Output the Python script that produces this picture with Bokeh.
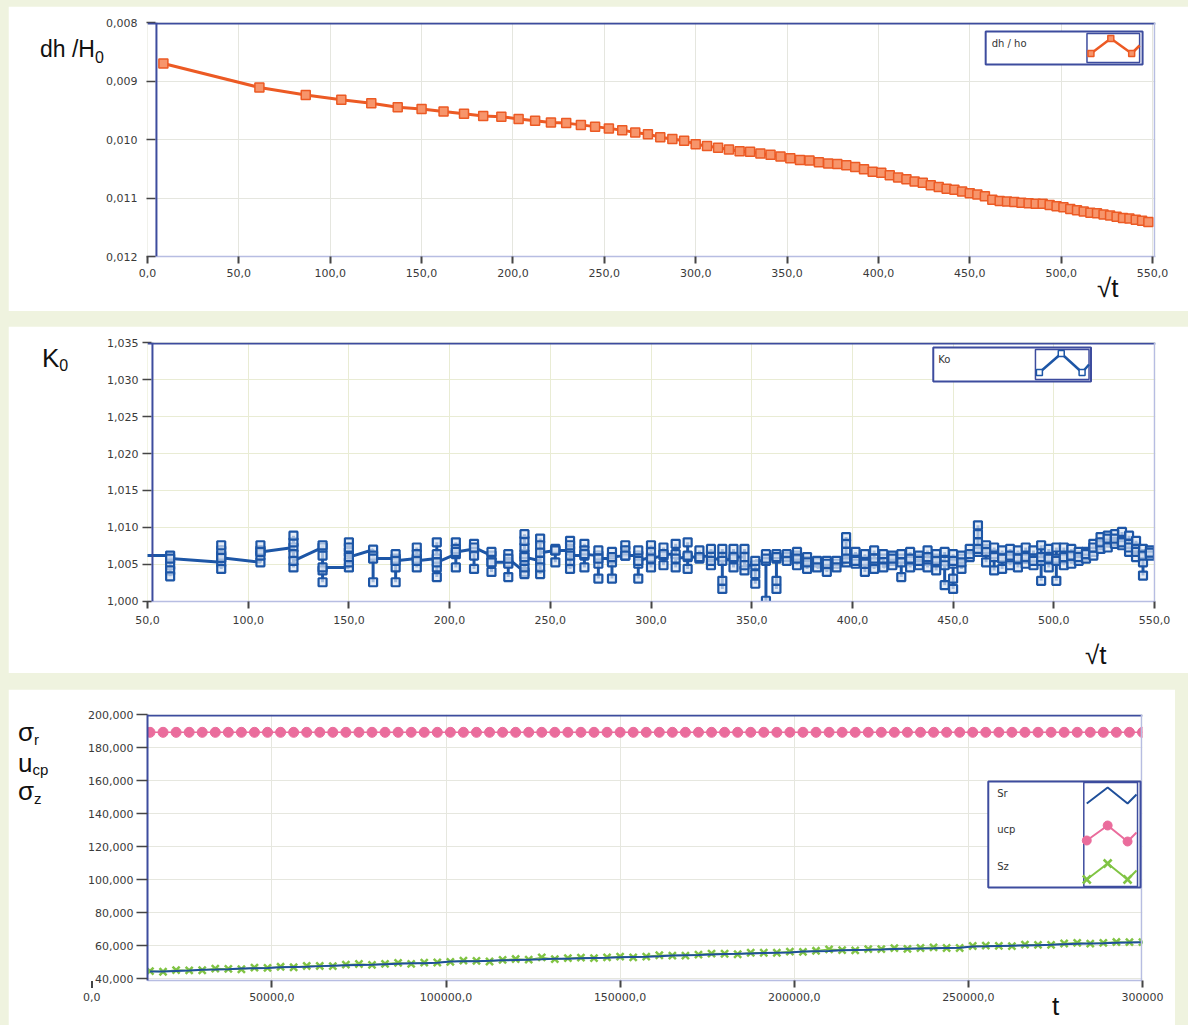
from bokeh.plotting import figure
from bokeh.models import (Range1d, FixedTicker, CustomJSTickFormatter, Label, Span,
                          BoxAnnotation, PolyAnnotation, Div)
from bokeh.layouts import column
from bokeh.embed import file_html
from bokeh.resources import INLINE

# ---------------- data ----------------
SQRT_T = [8.7, 61.24, 86.60, 106.07, 122.47, 136.93, 150.00, 162.02, 173.21, 183.71,
          193.65, 203.10, 212.13, 220.79, 229.13, 237.17, 244.95, 252.49, 259.81, 266.93,
          273.86, 280.62, 287.23, 293.68, 300.00, 306.19, 312.25, 318.20, 324.04, 329.77,
          335.41, 340.96, 346.41, 351.78, 357.07, 362.28, 367.42, 372.49, 377.49, 382.43,
          387.30, 392.11, 396.86, 401.56, 406.20, 410.79, 415.33, 419.82, 424.26, 428.66,
          433.01, 437.32, 441.59, 445.81, 450.00, 454.15, 458.26, 462.33, 466.37, 470.37,
          474.34, 478.28, 482.18, 486.06, 489.90, 493.71, 497.49, 501.25, 504.98, 508.68,
          512.35, 515.99, 519.62, 523.21, 526.78, 530.33, 533.85, 537.36, 540.83, 544.29,
          547.72]

DH_H0 = [0.00870, 0.00911, 0.00924, 0.00932, 0.00938, 0.00945, 0.00948, 0.00952, 0.00956, 0.00960,
         0.00961, 0.00965, 0.00968, 0.00971, 0.00972, 0.00975, 0.00978, 0.00981, 0.00984, 0.00988,
         0.00991, 0.00996, 0.00999, 0.01002, 0.01008, 0.01011, 0.01014, 0.01017, 0.01020, 0.01021,
         0.01024, 0.01026, 0.01029, 0.01032, 0.01035, 0.01036, 0.01039, 0.01041, 0.01042, 0.01044,
         0.01047, 0.01051, 0.01055, 0.01057, 0.01061, 0.01065, 0.01068, 0.01072, 0.01074, 0.01078,
         0.01081, 0.01084, 0.01086, 0.01089, 0.01092, 0.01094, 0.01097, 0.01103, 0.01105, 0.01106,
         0.01107, 0.01108, 0.01109, 0.01110, 0.01110, 0.01112, 0.01114, 0.01116, 0.01119, 0.01121,
         0.01123, 0.01125, 0.01126, 0.01128, 0.01130, 0.01132, 0.01134, 0.01135, 0.01137, 0.01139,
         0.01141]

K0_COLUMNS = [
    [1.0062],
    [1.0062, 1.0049, 1.0042, 1.0034, 1.0058],
    [1.0053, 1.0044, 1.0062, 1.0069, 1.0076, 1.0059],
    [1.0053, 1.0062, 1.0069, 1.0076, 1.0067],
    [1.0073, 1.0080, 1.0089, 1.0064, 1.0046, 1.0055],
    [1.0073, 1.0076, 1.0062, 1.0042, 1.0026, 1.0046],
    [1.0046, 1.0053, 1.0067, 1.0080, 1.0073, 1.0060],
    [1.0070, 1.0026, 1.0062, 1.0058],
    [1.0058, 1.0064, 1.0046, 1.0026, 1.0055],
    [1.0058, 1.0073, 1.0064, 1.0046, 1.0055],
    [1.0058, 1.0080, 1.0064, 1.0033, 1.0046, 1.0053],
    [1.0064, 1.0080, 1.0071, 1.0046, 1.0067],
    [1.0071, 1.0078, 1.0062, 1.0044, 1.0073],
    [1.0062, 1.0067, 1.0053, 1.0040, 1.0053],
    [1.0053, 1.0033, 1.0051, 1.0064, 1.0058],
    [1.0040, 1.0037, 1.0046, 1.0055, 1.0064, 1.0073, 1.0082, 1.0091, 1.0060],
    [1.0055, 1.0037, 1.0046, 1.0085, 1.0076, 1.0066],
    [1.0069, 1.0071, 1.0053, 1.0069],
    [1.0069, 1.0082, 1.0076, 1.0053, 1.0044, 1.0062],
    [1.0062, 1.0078, 1.0069, 1.0046, 1.0064],
    [1.0062, 1.0069, 1.0051, 1.0031, 1.0058],
    [1.0058, 1.0067, 1.0053, 1.0031, 1.0060],
    [1.0062, 1.0076, 1.0069, 1.0062],
    [1.0062, 1.0069, 1.0051, 1.0031, 1.0055],
    [1.0060, 1.0076, 1.0067, 1.0046, 1.0058],
    [1.0062, 1.0073, 1.0049, 1.0064],
    [1.0064, 1.0078, 1.0046, 1.0058],
    [1.0060, 1.0080, 1.0044, 1.0062],
    [1.0058, 1.0069, 1.0060],
    [1.0062, 1.0071, 1.0049, 1.0055],
    [1.0060, 1.0071, 1.0028, 1.0017, 1.0055],
    [1.0058, 1.0071, 1.0046, 1.0060],
    [1.0060, 1.0071, 1.0042, 1.0049],
    [1.0049, 1.0037, 1.0024, 1.0055],
    [1.0055, 1.0064, 1.0001, 1.0058],
    [1.0058, 1.0064, 1.0028, 1.0017, 1.0060],
    [1.0060, 1.0064, 1.0055],
    [1.0062, 1.0067, 1.0049, 1.0058],
    [1.0055, 1.0060, 1.0044, 1.0053],
    [1.0053, 1.0055, 1.0046],
    [1.0049, 1.0055, 1.0040, 1.0051],
    [1.0051, 1.0055, 1.0046],
    [1.0053, 1.0087, 1.0078, 1.0067, 1.0058],
    [1.0058, 1.0067, 1.0051, 1.0055],
    [1.0055, 1.0064, 1.0040, 1.0051],
    [1.0053, 1.0069, 1.0044, 1.0058],
    [1.0058, 1.0064, 1.0046],
    [1.0055, 1.0062, 1.0049, 1.0058],
    [1.0058, 1.0064, 1.0033, 1.0053],
    [1.0055, 1.0067, 1.0046, 1.0058],
    [1.0058, 1.0062, 1.0049, 1.0055],
    [1.0055, 1.0069, 1.0046, 1.0060],
    [1.0058, 1.0064, 1.0042, 1.0055],
    [1.0055, 1.0067, 1.0022, 1.0049],
    [1.0051, 1.0064, 1.0017, 1.0031, 1.0055],
    [1.0058, 1.0062, 1.0044, 1.0053],
    [1.0060, 1.0071, 1.0064],
    [1.0067, 1.0103, 1.0091, 1.0080, 1.0071],
    [1.0071, 1.0076, 1.0053, 1.0067],
    [1.0064, 1.0073, 1.0042, 1.0060],
    [1.0060, 1.0069, 1.0044, 1.0058],
    [1.0058, 1.0071, 1.0049, 1.0062],
    [1.0060, 1.0069, 1.0046, 1.0058],
    [1.0058, 1.0073, 1.0051, 1.0060],
    [1.0058, 1.0069, 1.0049, 1.0055],
    [1.0055, 1.0076, 1.0028, 1.0060],
    [1.0060, 1.0071, 1.0046, 1.0058],
    [1.0058, 1.0073, 1.0028, 1.0055],
    [1.0058, 1.0073, 1.0049, 1.0060],
    [1.0060, 1.0071, 1.0051, 1.0062],
    [1.0062, 1.0067, 1.0055, 1.0060],
    [1.0062, 1.0067, 1.0058, 1.0064],
    [1.0067, 1.0078, 1.0062, 1.0073],
    [1.0076, 1.0087, 1.0071, 1.0080],
    [1.0080, 1.0089, 1.0073, 1.0085],
    [1.0082, 1.0091, 1.0078, 1.0085],
    [1.0082, 1.0094, 1.0076, 1.0080],
    [1.0078, 1.0089, 1.0067, 1.0073],
    [1.0073, 1.0082, 1.0060, 1.0067],
    [1.0064, 1.0071, 1.0035, 1.0053, 1.0062],
    [1.0065, 1.0069, 1.0062, 1.0066],
]

T = [15000, 18750, 22500, 26250, 30000, 33750, 37500, 41250, 45000, 48750,
     52500, 56250, 60000, 63750, 67500, 71250, 75000, 78750, 82500, 86250,
     90000, 93750, 97500, 101250, 105000, 108750, 112500, 116250, 120000, 123750,
     127500, 131250, 135000, 138750, 142500, 146250, 150000, 153750, 157500, 161250,
     165000, 168750, 172500, 176250, 180000, 183750, 187500, 191250, 195000, 198750,
     202500, 206250, 210000, 213750, 217500, 221250, 225000, 228750, 232500, 236250,
     240000, 243750, 247500, 251250, 255000, 258750, 262500, 266250, 270000, 273750,
     277500, 281250, 285000, 288750, 292500, 296250, 300000]

SR = [44.2, 44.3, 44.6, 44.8, 45.3, 45.4, 45.6, 46.0, 46.2, 46.4,
      46.8, 47.0, 47.1, 47.5, 47.8, 48.0, 48.2, 48.4, 48.7, 49.0,
      49.2, 49.3, 49.6, 50.3, 50.4, 50.5, 50.7, 51.0, 51.2, 51.4,
      51.6, 51.9, 52.0, 52.2, 52.4, 52.6, 52.9, 53.1, 53.2, 53.5,
      53.9, 54.1, 54.2, 54.6, 54.9, 55.0, 55.2, 55.4, 55.6, 55.8,
      56.3, 56.5, 56.7, 57.1, 57.3, 57.4, 57.6, 57.9, 58.1, 58.2,
      58.3, 58.5, 58.7, 59.4, 59.5, 59.7, 59.9, 60.0, 60.2, 60.4,
      60.8, 61.0, 61.2, 61.3, 61.6, 61.8, 61.9]

UCP = [189.2, 189.2, 189.2, 189.2, 189.2, 189.2, 189.2, 189.2, 189.2, 189.2,
       189.2, 189.2, 189.2, 189.2, 189.2, 189.2, 189.2, 189.2, 189.2, 189.2,
       189.2, 189.2, 189.2, 189.2, 189.2, 189.2, 189.2, 189.2, 189.2, 189.2,
       189.2, 189.2, 189.2, 189.2, 189.2, 189.2, 189.2, 189.2, 189.2, 189.2,
       189.2, 189.2, 189.2, 189.2, 189.2, 189.2, 189.2, 189.2, 189.2, 189.2,
       189.2, 189.2, 189.2, 189.2, 189.2, 189.2, 189.2, 189.2, 189.2, 189.2,
       189.2, 189.2, 189.2, 189.2, 189.2, 189.2, 189.2, 189.2, 189.2, 189.2,
       189.2, 189.2, 189.2, 189.2, 189.2, 189.2, 189.2]

SZ = [44.5, 44.1, 45.1, 44.9, 45.0, 46.0, 45.8, 45.6, 46.6, 46.4,
      47.1, 46.8, 47.6, 47.6, 47.5, 48.4, 48.8, 48.3, 48.9, 49.5,
      48.9, 49.6, 49.7, 50.1, 50.8, 50.7, 50.3, 51.3, 51.8, 51.4,
      52.8, 51.7, 52.3, 52.7, 52.3, 52.8, 53.3, 52.8, 53.3, 54.1,
      53.9, 53.9, 54.5, 55.1, 55.0, 54.7, 55.6, 55.6, 55.6, 56.3,
      56.1, 56.8, 57.7, 57.2, 57.0, 57.8, 57.8, 58.4, 58.0, 58.5,
      58.9, 58.5, 58.5, 59.7, 59.9, 59.8, 59.6, 60.5, 60.4, 60.4,
      61.2, 61.6, 61.1, 61.6, 62.1, 62.0, 62.0]

X1_TICKS = [0, 50, 100, 150, 200, 250, 300, 350, 400, 450, 500, 550]
Y1_TICKS = [0.008, 0.009, 0.010, 0.011, 0.012]
X2_TICKS = [50, 100, 150, 200, 250, 300, 350, 400, 450, 500, 550]
Y2_TICKS = [1.000, 1.005, 1.010, 1.015, 1.020, 1.025, 1.030, 1.035]
X3_TICKS = [50000, 100000, 150000, 200000, 250000, 300000]
Y3_TICKS = [40, 60, 80, 100, 120, 140, 160, 180, 200]

# ---------------- style ----------------
CREAM = "#eff3df"
NAVY = "#3d4c9e"
LAV = "#b7bde2"
TICKC = "#454545"
FONT = "Liberation Sans"
TFONT = "DejaVu Sans"
ORANGE = "#ec5a24"
BLUE = "#1d56a6"
PINK = "#ea6c9c"
GREEN = "#80c444"
SRBLUE = "#1f4f9a"


class Mapper:
    """page pixel -> data for one panel (frame edges given in page pixels)"""
    def __init__(self, fl, fr, ft, fb, xs, xe, ys, ye):
        self.fl, self.fr, self.ft, self.fb = fl, fr, ft, fb
        self.xs, self.xe, self.ys, self.ye = xs, xe, ys, ye

    def X(self, px):
        return self.xs + (px - self.fl) / (self.fr - self.fl) * (self.xe - self.xs)

    def Y(self, py):
        return self.ye + (py - self.ft) / (self.fb - self.ft) * (self.ys - self.ye)


def make_panel(m, page_left, page_top, width, height, x_ticks, y_ticks, x_code, y_code,
               grid_color, ytick_in, ytick_out, ystandoff, xstandoff, yaxis_line):
    p = figure(width=width, height=height, title=None,
               x_range=Range1d(m.xs, m.xe), y_range=Range1d(m.ys, m.ye),
               output_backend="svg", toolbar_location=None, tools="",
               min_border_left=int(m.fl - page_left), min_border_right=int(page_left + width - m.fr),
               min_border_top=int(m.ft - page_top), min_border_bottom=int(page_top + height - m.fb))
    p.background_fill_color = "white"
    p.border_fill_color = "white"
    p.outline_line_color = None
    xa, ya = p.xaxis[0], p.yaxis[0]
    xa.ticker = FixedTicker(ticks=x_ticks)
    ya.ticker = FixedTicker(ticks=y_ticks)
    xa.formatter = CustomJSTickFormatter(code=x_code)
    ya.formatter = CustomJSTickFormatter(code=y_code)
    for a in (xa, ya):
        a.minor_tick_line_color = None
        a.major_tick_line_color = TICKC
        a.major_label_text_font = TFONT
        a.major_label_text_font_size = "11px"
        a.major_label_text_color = "#3a3a3a"
    xa.axis_line_color = LAV
    xa.axis_line_width = 1.5
    xa.major_tick_line_width = 2
    xa.major_tick_in = 0
    xa.major_tick_out = 7
    xa.major_label_standoff = xstandoff
    ya.axis_line_color = NAVY if yaxis_line else None
    ya.axis_line_width = 2
    ya.major_tick_line_width = 1.5
    ya.major_tick_in = ytick_in
    ya.major_tick_out = ytick_out
    ya.major_label_standoff = ystandoff
    p.xgrid.grid_line_color = grid_color
    p.ygrid.grid_line_color = grid_color
    p.add_layout(Span(location=m.Y(m.ft + 1), dimension="width", line_color=NAVY, line_width=2))
    p.add_layout(Span(location=m.X(m.fr - 1), dimension="height", line_color=LAV, line_width=1.5))
    return p


def text(p, m, s, px, py, size, align="left", baseline="alphabetic", color="#111111", font=FONT):
    p.add_layout(Label(x=m.X(px), y=m.Y(py), text=s, text_font=font, text_font_size=size,
                       text_color=color, text_align=align, text_baseline=baseline))


def box(p, m, x0, y0, x1, y1, lw):
    p.add_layout(BoxAnnotation(left=m.X(x0), right=m.X(x1), top=m.Y(y0), bottom=m.Y(y1),
                               fill_color="white", fill_alpha=1.0, line_color=NAVY,
                               line_width=lw, line_alpha=1.0))


def poly_line(p, m, pts, color, width):
    path = pts + pts[-2:0:-1]
    p.add_layout(PolyAnnotation(xs=[m.X(a) for a, b in path], ys=[m.Y(b) for a, b in path],
                                fill_color=None, fill_alpha=0, line_color=color,
                                line_alpha=1.0, line_width=width))


def square_mark(p, m, cx, cy, r, color, fill):
    pts = [(cx - r, cy - r), (cx + r, cy - r), (cx + r, cy + r), (cx - r, cy + r)]
    p.add_layout(PolyAnnotation(xs=[m.X(a) for a, b in pts], ys=[m.Y(b) for a, b in pts],
                                fill_color=fill, fill_alpha=1.0, line_color=color,
                                line_alpha=1.0, line_width=1.5))


def circle_mark(p, m, cx, cy, r, color):
    import math
    pts = [(cx + r * math.cos(i * math.pi / 8), cy + r * math.sin(i * math.pi / 8)) for i in range(16)]
    p.add_layout(PolyAnnotation(xs=[m.X(a) for a, b in pts], ys=[m.Y(b) for a, b in pts],
                                fill_color=color, fill_alpha=1.0, line_color=color,
                                line_alpha=1.0, line_width=1))


def x_mark(p, m, cx, cy, r, color):
    poly_line(p, m, [(cx - r, cy - r), (cx + r, cy + r)], color, 2.5)
    poly_line(p, m, [(cx - r, cy + r), (cx + r, cy - r)], color, 2.5)


# texts that sit outside the plot frames (page-positioned overlays)
OVERLAYS = []


def overlay(html, left, top, size, font=FONT, color="#111111", extra=None):
    st = {"position": "absolute", "left": f"{left}px", "top": f"{top}px",
          "font-family": f"'{font}', sans-serif", "font-size": f"{size}px", "line-height": "1",
          "color": color, "white-space": "nowrap", "margin": "0", "padding": "0"}
    if extra:
        st.update(extra)
    OVERLAYS.append(Div(text=html, styles=st))


def sub(s, size, shift):
    return f"<span style='font-size:{size}px;position:relative;top:{shift}px'>{s}</span>"


FMT1 = "return tick.toFixed(1).replace('.', ',');"
FMT3 = "return tick.toFixed(3).replace('.', ',');"
FMT_T = "return tick >= 300000 ? '300000' : tick.toFixed(1).replace('.', ',');"

# ---------------- panel 1 : dh/H0 vs sqrt(t) ----------------
m1 = Mapper(147, 1162, 22, 256, -1e-9, 1015 / 1.84, 0.0120000001, 0.0079999999)
p1 = make_panel(m1, 8, 6, 1180, 305, X1_TICKS, Y1_TICKS, FMT1, FMT3, "#e5e6df", 8, 1, 9, 5, False)
p1.add_layout(Span(location=m1.X(156), dimension="height", line_color=NAVY, line_width=2))
p1.line(SQRT_T, DH_H0, line_color=ORANGE, line_width=3)
p1.scatter(SQRT_T, DH_H0, marker="square", size=9, fill_color="#f7956b",
           line_color=ORANGE, line_width=1.5)
box(p1, m1, 991, 31, 1149, 64, 2)
box(p1, m1, 1093, 33, 1146, 62, 1.5)
text(p1, m1, "dh / ho", 997, 37, "10px", baseline="top", color="#333333", font=TFONT)
zz1 = [(1097, 53), (1117, 38), (1138, 53), (1146, 45)]
poly_line(p1, m1, zz1, ORANGE, 2.5)
for cx, cy in zz1[:3]:
    square_mark(p1, m1, cx, cy, 3, ORANGE, "#f7956b")
overlay("dh /H" + sub("0", 16, 6), 40, 38, 23)
overlay("\u221at", 1097, 275, 26)

# ---------------- panel 2 : K0 vs sqrt(t) ----------------
K0_X, K0_Y = [], []
for xv, col in zip(SQRT_T, K0_COLUMNS):
    for v in col:
        K0_X.append(xv)
        K0_Y.append(v)

m2 = Mapper(142, 1158, 342, 601, 50 - 1e-9, 50 + 1016 / 2.03, 0.9999999, 1.0350001)
p2 = make_panel(m2, 8, 326, 1180, 347, X2_TICKS, Y2_TICKS, FMT1, FMT3, "#e9ecd4", 4, 5, 4, 7, False)
p2.add_layout(Span(location=m2.X(147), dimension="height", line_color=NAVY, line_width=2))
p2.line(K0_X, K0_Y, line_color=BLUE, line_width=3)
p2.scatter(K0_X, K0_Y, marker="square", size=8, fill_color="#dce6f4", fill_alpha=0.7,
           line_color=BLUE, line_width=2.2)
box(p2, m2, 934, 347, 1093, 381, 2)
box(p2, m2, 1037, 349, 1091, 379, 1.5)
text(p2, m2, "Ko", 939, 353, "10px", baseline="top", color="#333333", font=TFONT)
zz2 = [(1041, 372), (1063, 353), (1084, 372), (1091, 364)]
poly_line(p2, m2, zz2, BLUE, 2.5)
for cx, cy in zz2[:3]:
    square_mark(p2, m2, cx, cy, 3, BLUE, "white")
overlay("K" + sub("0", 16, 4), 42, 345, 26)
overlay("\u221at", 1085, 642, 26)

# ---------------- panel 3 : stresses vs t ----------------
m3 = Mapper(142, 1142, 714, 980, 50 / 0.0035, 300000, 40 - 2 / 1.65, 200)
p3 = make_panel(m3, 8, 689, 1167, 336, X3_TICKS, Y3_TICKS, FMT_T, FMT3, "#e6e7df", 0, 11, 3, 5, True)
p3.line(T, UCP, line_color=PINK, line_width=1.5)
p3.scatter(T, UCP, marker="circle", size=10, fill_color=PINK, line_color=PINK)
p3.line(T, SZ, line_color=GREEN, line_width=1.5)
p3.scatter(T, SZ, marker="x", size=10, line_color=GREEN, line_width=2.5)
p3.line(T, SR, line_color=SRBLUE, line_width=2)
box(p3, m3, 987, 781, 1140, 887, 2)
box(p3, m3, 1083, 782, 1137, 886, 1.5)
text(p3, m3, "Sr", 996, 787, "10px", baseline="top", color="#333333", font=TFONT)
text(p3, m3, "ucp", 996, 823, "10px", baseline="top", color="#333333", font=TFONT)
text(p3, m3, "Sz", 996, 860, "10px", baseline="top", color="#333333", font=TFONT)
poly_line(p3, m3, [(1086, 803), (1107, 787), (1127, 803), (1136, 794)], SRBLUE, 2)
zz_u = [(1086, 840), (1107, 825), (1127, 841), (1136, 832)]
poly_line(p3, m3, zz_u, PINK, 2)
for cx, cy in zz_u[:3]:
    circle_mark(p3, m3, cx, cy, 4.5, PINK)
zz_z = [(1086, 879), (1107, 863), (1127, 879), (1136, 870)]
poly_line(p3, m3, zz_z, GREEN, 2)
for cx, cy in zz_z[:3]:
    x_mark(p3, m3, cx, cy, 4, GREEN)
overlay("\u03c3" + sub("r", 15, 4), 18, 719, 26)
overlay("u" + sub("cp", 15, 3), 18, 750, 26)
overlay("\u03c3" + sub("z", 15, 4), 18, 778, 26)
overlay("t", 1052, 993, 26)
overlay("0,0", 83, 992, 11, font=TFONT, color="#3a3a3a")
overlay("", 91, 981, 1, extra={"width": "2px", "height": "7px", "background-color": TICKC})

# ---------------- layout ----------------
p1.margin = (6, 0, 0, 8)
p2.margin = (15, 0, 0, 8)
p3.margin = (16, 13, 0, 8)
page = column(p1, p2, p3, *OVERLAYS, spacing=0,
              styles={"background-color": CREAM, "position": "relative"})

open("out.html", "w").write(file_html(page, INLINE))
